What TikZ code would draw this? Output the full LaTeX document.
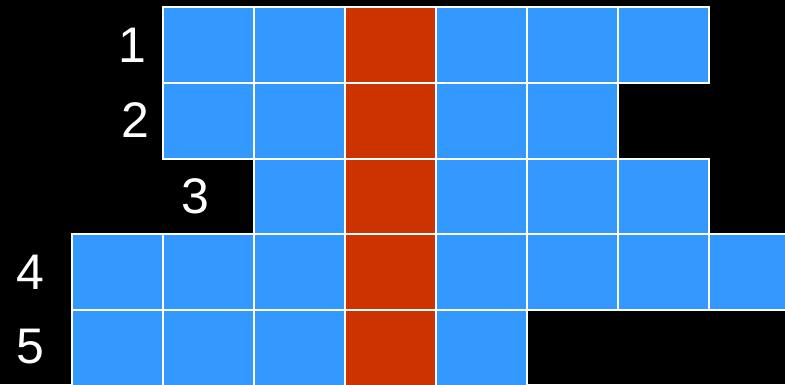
\documentclass[tikz,border=0pt]{standalone}
\usepackage{fontspec}
\setmainfont{Liberation Sans}
\usepackage{tikz}
\definecolor{cellblue}{HTML}{3399FF}
\definecolor{cellred}{HTML}{CC3300}

\begin{document}
\begin{tikzpicture}[
  x=1pt, y=-1pt,
  cell/.style   = {fill=cellblue, draw=white, line width=2pt},
  redcell/.style = {cell, fill=cellred},
  rowlab/.style = {text=white, font=\fontsize{50}{50}\selectfont, inner sep=0pt},
]
  \fill[black] (0,0) rectangle (785,384);
  \useasboundingbox (0,0) rectangle (785,384);
  \clip (0,0) rectangle (785,384);

  % rows: row / first column / last column
  \foreach \r/\a/\b in {1/1/6, 2/1/5, 3/2/6, 4/0/7, 5/0/4} {
    \foreach \c in {\a,...,\b} {
      \ifnum\c=3
        \filldraw[redcell] ({71.5+\c*91},{7+(\r-1)*75.8}) rectangle ++(91,75.8);
      \else
        \filldraw[cell] ({71.5+\c*91},{7+(\r-1)*75.8}) rectangle ++(91,75.8);
      \fi
    }
  }

  \node[rowlab] (lab1) at (132,45)  {1};
  \node[rowlab] (lab2) at (135,120) {2};
  \node[rowlab] (lab3) at (195,196) {3};
  \node[rowlab] (lab4) at (30,272)  {4};
  \node[rowlab] (lab5) at (30,347)  {5};
\end{tikzpicture}
\end{document}
